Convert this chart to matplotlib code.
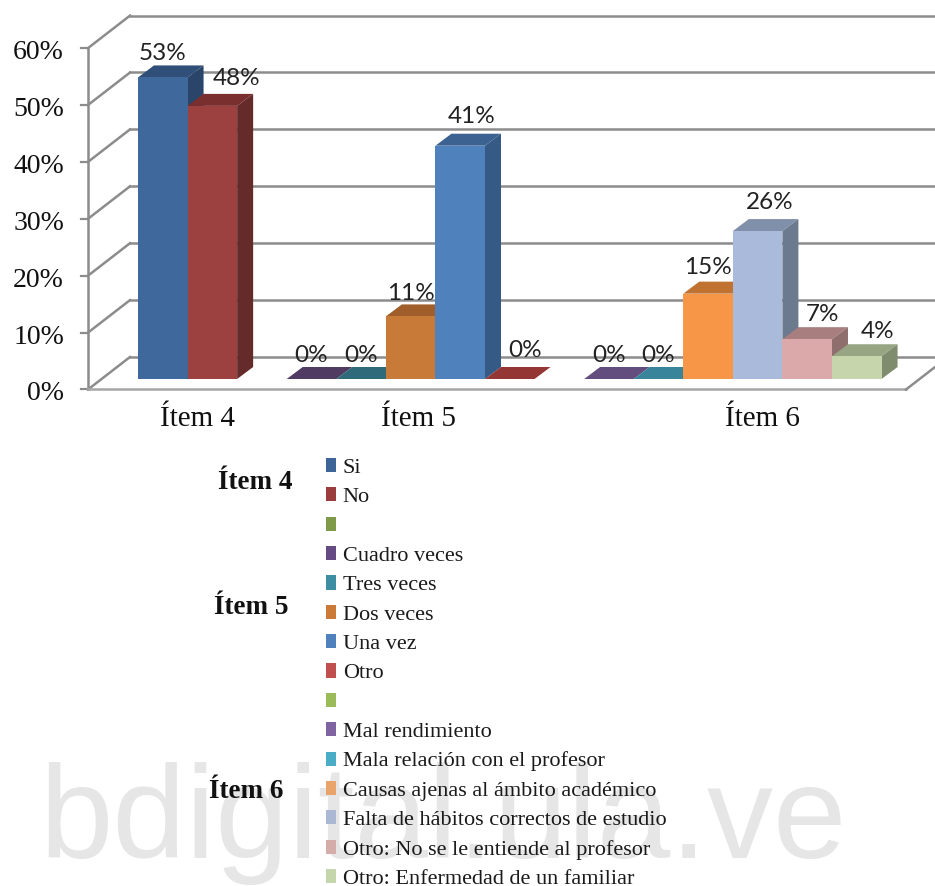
import matplotlib
matplotlib.use('Agg')
import matplotlib.pyplot as plt
from matplotlib.patches import Patch, Polygon

# one value per slot, None = empty slot between the items
valores = [53, 48, None, 0, 0, 11, 41, 0, None, 0, 0, 15, 26, 7, 4]
frente = ['#3F689C', '#9C4040', None, '#503B62', '#2E6A7A', '#C87A38', '#4F81BD', '#943634', None,
          '#634C7E', '#38849B', '#F79646', '#AABADA', '#DBA9A9', '#C6D5AB']
arriba = ['#2F4F78', '#7A2F2F', None, '#503B62', '#2E6A7A', '#A05F2A', '#3B6290', '#943634', None,
          '#634C7E', '#38849B', '#C07230', '#808FAA', '#A87E7E', '#98A583']
lado = ['#2B4469', '#652A2A', None, '#503B62', '#2E6A7A', '#8F5526', '#345A85', '#943634', None,
        '#634C7E', '#38849B', '#AB6A2E', '#6B7A8F', '#8F6E6E', '#7F8C6E']

# label shifts in pixels against the bar centre / bar top
etq_dx = [0, 24, 0, 0, 0, 0, 11, 15, 0, 0, 0, 0, 12, 15, 21]
etq_dy = [24, 27, 0, 24, 24, 23, 29, 28, 0, 24, 24, 26, 29, 25, 25]

ticks_y = [0, 10, 20, 30, 40, 50, 60]
items = ['Ítem 4', 'Ítem 5', 'Ítem 6']
items_x = [1.21, 5.65, 12.6]

ley_textos = ['Si', 'No', '', 'Cuadro veces', 'Tres veces', 'Dos veces', 'Una vez', 'Otro', '',
              'Mal rendimiento', 'Mala relación con el profesor', 'Causas ajenas al ámbito académico',
              'Falta de hábitos correctos de estudio', 'Otro: No se le entiende al profesor',
              'Otro: Enfermedad de un familiar']
ley_colores = ['#3E6597', '#9B3D3D', '#7F9A48', '#664A84', '#3D8DA3', '#CC7A37', '#4F81BD', '#C0504D',
               '#9BBB59', '#8064A2', '#4BACC6', '#E8A46B', '#AAB8D4', '#D4ADAB', '#C6D6AC']
ley_grupos = ['Ítem 4', 'Ítem 5', 'Ítem 6']
ley_grupos_pos = [(255, 483), (251, 607), (246, 792)]

W, H = 935, 886
PX_X = 49.57   # px per slot
PX_Y = 5.69    # px per percent
X0, Y0 = 138, 379


def dx(px):
    return px / PX_X


def dy(px):
    return px / PX_Y


def sx(px):
    return (px - X0) / PX_X


def sy(px):
    return (Y0 - px) / PX_Y


fig = plt.figure(figsize=(W / 100, H / 100), dpi=100)
ax = fig.add_axes([0, 0, 1, 1])
ax.set_xlim(sx(0), sx(W))
ax.set_ylim(sy(H), sy(0))
ax.axis('off')

serif = 'Liberation Serif'

ax.text(sx(40), sy(858), 'bdigital.ula.ve', fontsize=95, family='Liberation Sans', color='#E6E6E6',
        ha='left', va='baseline', zorder=0)

# floor
fx, fy = sx(88), sy(389.5)
bx, by = dx(42), dy(32.5)
gris = '#8C8C8C'

# walls
for t in ticks_y:
    ax.plot([fx + bx, sx(W)], [fy + by + t, fy + by + t], color=gris, lw=1.8, zorder=1)
    ax.plot([fx, fx + bx], [fy + t, fy + by + t], color=gris, lw=1.8, zorder=1)
    ax.plot([fx - dx(7), fx], [fy + t, fy + t], color=gris, lw=1.6, zorder=1)
    ax.text(sx(64), fy + t - dy(4.5), '%d%%' % t, fontsize=20, family=serif, color='#111111',
            ha='right', va='center')
ax.plot([fx, fx], [fy, fy + 60], color=gris, lw=1.8, zorder=1)

ax.plot([fx, sx(906)], [fy, fy], color='#A6A6A6', lw=1.8, zorder=2)
ax.plot([sx(906), sx(906) + bx], [fy, fy + by], color=gris, lw=1.8, zorder=2)

# bars
px_, py_ = dx(16), dy(12)
for i, v in enumerate(valores):
    if v is None:
        continue
    z = 3 + i * 0.01
    ax.bar(i, v, width=1, bottom=0, align='edge', color=frente[i], linewidth=0, zorder=z + 0.002)
    ax.add_patch(Polygon([(i, v), (i + 1, v), (i + 1 + px_, v + py_), (i + px_, v + py_)],
                         closed=True, facecolor=arriba[i], edgecolor='none', zorder=z))
    if v > 0:
        ax.add_patch(Polygon([(i + 1, 0), (i + 1 + px_, py_), (i + 1 + px_, v + py_), (i + 1, v)],
                             closed=True, facecolor=lado[i], edgecolor='none', zorder=z))
    ax.text(i + 0.5 + dx(etq_dx[i]), v + dy(etq_dy[i]), '%d%%' % v, fontsize=17.5, family='Lato',
            color='#222222', ha='center', va='center', zorder=5)

for nom, xc in zip(items, items_x):
    ax.text(xc, sy(419), nom, fontsize=21, family=serif, color='#111111', ha='center', va='center')

# legend
handles = [Patch(facecolor=c, edgecolor='none') for c in ley_colores]
ley = ax.legend(handles, ley_textos, loc='upper left', bbox_to_anchor=(326 / W, 1 - 458 / H),
                frameon=False, prop={'family': serif, 'size': 16}, labelspacing=0.426,
                handlelength=0.45, handleheight=0.6, handletextpad=0.3, borderpad=0, borderaxespad=0)
for txt in ley.get_texts():
    txt.set_color('#1A1A1A')
ley.set_zorder(6)

for nom, (px, py) in zip(ley_grupos, ley_grupos_pos):
    ax.text(sx(px), sy(py), nom, fontsize=19.5, family=serif, weight='bold', color='#111111',
            ha='center', va='center', zorder=6)

fig.savefig('out.png', dpi=100)
